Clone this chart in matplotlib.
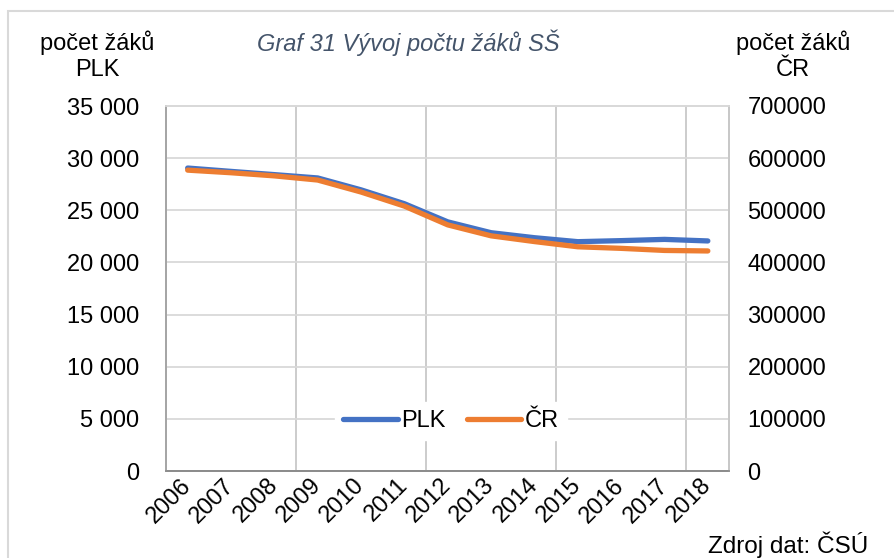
import matplotlib.pyplot as plt
from matplotlib.patches import Rectangle
from matplotlib.ticker import FuncFormatter, MultipleLocator
from matplotlib.transforms import ScaledTranslation

plt.rcParams['font.family'] = ['Liberation Sans', 'DejaVu Sans']

roky = ["2006", "2007", "2008", "2009", "2010", "2011", "2012",
        "2013", "2014", "2015", "2016", "2017", "2018"]
plk = [29050, 28730, 28420, 28100, 26960, 25630, 23890,
       22850, 22370, 21990, 22090, 22210, 22060]
cr = [577000, 572000, 566000, 558000, 535000, 508000, 472000,
      451000, 440000, 430000, 427000, 423000, 422000]

W, H = 895, 558
fig = plt.figure(figsize=(W / 100, H / 100), dpi=100)

# ramecek kolem grafu
fig.patches.append(Rectangle((8 / W, -0.1), 1.2, 1 - 11 / H + 0.1, transform=fig.transFigure,
                             fill=False, edgecolor="#d9d9d9", linewidth=1.5))

ax = fig.add_axes([166 / W, 1 - 471 / H, (729.5 - 166) / W, (471 - 106) / H])
ax2 = ax.twinx()

x = list(range(len(roky)))
l1, = ax.plot(x, plk, color="#4472c4", linewidth=3.8, solid_capstyle="round",
              solid_joinstyle="round", label="PLK")
l2, = ax2.plot(x, cr, color="#ed7d31", linewidth=3.8, solid_capstyle="round",
               solid_joinstyle="round", label="ČR")

ax.set_xlim(-0.5, len(roky) - 0.5)
ax.set_ylim(0, 35000)
ax2.set_ylim(0, 700000)
ax.yaxis.set_major_locator(MultipleLocator(5000))
ax2.yaxis.set_major_locator(MultipleLocator(100000))
ax.yaxis.set_major_formatter(FuncFormatter(lambda v, p: f"{int(v):,}".replace(",", " ")))
ax2.yaxis.set_major_formatter(FuncFormatter(lambda v, p: f"{int(v)}"))

# mrizka
ax.grid(axis="y", color="#d9d9d9", linewidth=1.3)
for gx in [2.5, 5.5, 8.5, 11.5]:
    ax.axvline(gx, color="#c8c8c8", linewidth=1.3, zorder=0.5)
ax.set_axisbelow(True)

ax.set_xticks(x)
ax.set_xticklabels(roky, rotation=45, ha="right", va="center", rotation_mode="anchor")
posun = ScaledTranslation(12 / 72, 0, fig.dpi_scale_trans)
for lab in ax.get_xticklabels():
    lab.set_transform(lab.get_transform() + posun)
ax.tick_params(axis="x", length=0, pad=8, labelsize=17)
ax.tick_params(axis="y", length=0, pad=19, labelsize=17)
ax2.tick_params(axis="y", length=0, pad=13, labelsize=17)

for a in (ax, ax2):
    a.spines["top"].set_color("#d9d9d9")
    a.spines["right"].set_color("#c8c8c8")
    a.spines["left"].set_color("#a6a6a6")
    a.spines["bottom"].set_color("#8c8c8c")
    for s in a.spines.values():
        s.set_linewidth(1.3)

leg = ax2.legend(handles=[l1, l2], loc="center", bbox_to_anchor=(0.506, 0.137), ncol=2,
                 frameon=True, fontsize=17, handlelength=2.3, handletextpad=0.15,
                 columnspacing=0.9, borderpad=0.35, borderaxespad=0, fancybox=False)
leg.get_frame().set_edgecolor("white")
leg.get_frame().set_facecolor("white")
leg.get_frame().set_alpha(1)

fig.text(97 / W, 1 - 56 / H, "počet žáků\nPLK", ha="center", va="center", fontsize=17,
         linespacing=1.25)
fig.text(793 / W, 1 - 56 / H, "počet žáků\nČR", ha="center", va="center", fontsize=17,
         linespacing=1.25)
fig.text(408 / W, 1 - 43 / H, "Graf 31 Vývoj počtu žáků SŠ", ha="center", va="center",
         fontsize=17, style="italic", color="#44546a")
fig.text(868 / W, 1 - 545 / H, "Zdroj dat: ČSÚ", ha="right", va="center", fontsize=17.5)

fig.savefig("out.png", dpi=100)
